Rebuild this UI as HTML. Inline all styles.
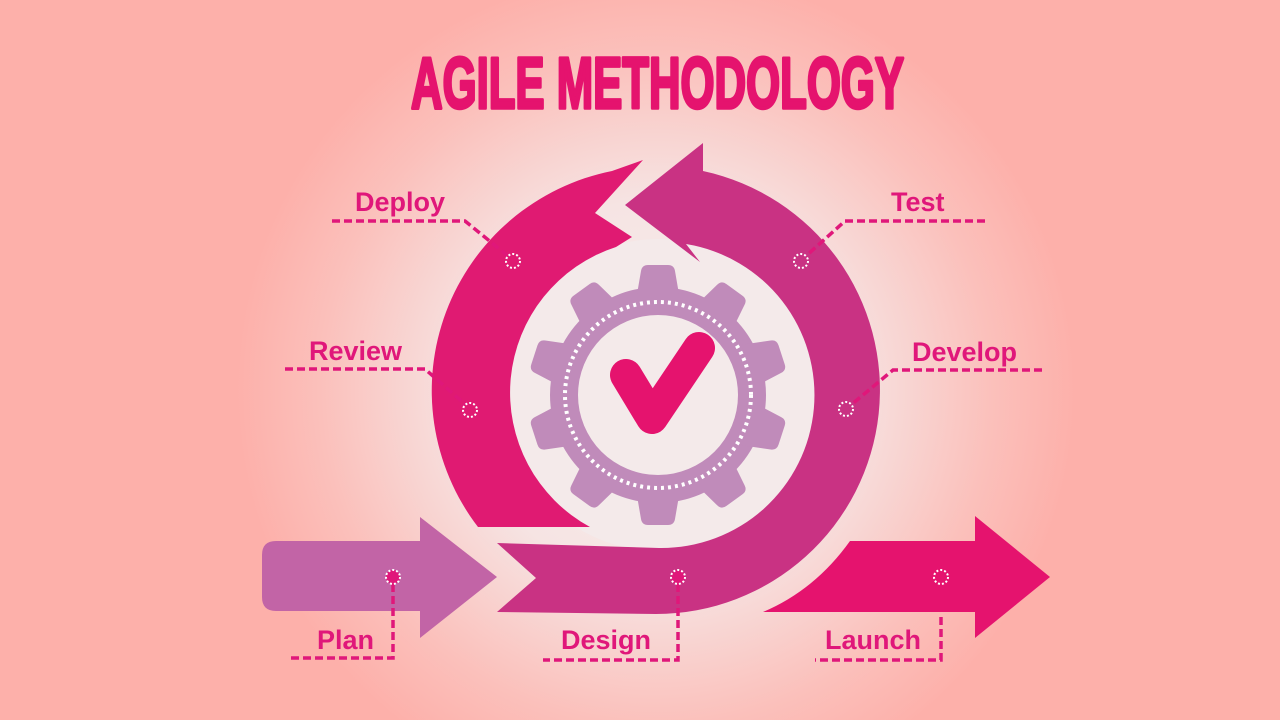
<!DOCTYPE html>
<html><head><meta charset="utf-8"><style>
html,body{margin:0;padding:0;width:1280px;height:720px;overflow:hidden}
svg{display:block}
</style></head><body>
<svg width="1280" height="720" viewBox="0 0 1280 720" xmlns="http://www.w3.org/2000/svg">
<defs>
<radialGradient id="bg" cx="656" cy="390" r="420" gradientUnits="userSpaceOnUse">
<stop offset="0" stop-color="#f6eeee"/>
<stop offset="0.45" stop-color="#f6e4e3"/>
<stop offset="0.8" stop-color="#fbc0bb"/>
<stop offset="1" stop-color="#fdb0aa"/>
</radialGradient>
</defs>
<rect width="1280" height="720" fill="url(#bg)"/>
<text x="411" y="108" font-family="'Liberation Sans',sans-serif" font-weight="bold" font-size="72" fill="#e5136e" stroke="#e5136e" stroke-width="3.5" stroke-linejoin="round" textLength="493" lengthAdjust="spacingAndGlyphs">AGILE METHODOLOGY</text>

<circle cx="659" cy="395" r="156" fill="#f4eaea"/>

<path d="M478,527 A224,224 0 0 1 612,171 L643,160 L595,213 L632,237 L616,247 A153,153 0 0 0 590,527 Z" fill="#e01a72"/>
<path d="M686,244 A153,153 0 0 1 659,548 L497,543 L536,578 L497,612 L656,614 A224,224 0 0 0 703,171 L703,143 L625,205 L700,262 Z" fill="#c93283"/>

<path d="M276,541 L420,541 L420,517 L497,577 L420,638 L420,611 L276,611 Q262,611 262,597 L262,555 Q262,541 276,541 Z" fill="#c264a6"/>
<path d="M850,541 L975,541 L975,516 L1050,577 L975,638 L975,612 L763,612 Q815,590 850,541 Z" fill="#e5136e"/>

<g fill="#c08bba" transform="translate(658,395)">
<circle r="108"/>
<g id="t"><path d="M-22,-95 L-17,-124 Q-16,-130 -10,-130 L10,-130 Q16,-130 17,-124 L22,-95 Z"/></g>
<use href="#t" transform="rotate(36)"/><use href="#t" transform="rotate(72)"/><use href="#t" transform="rotate(108)"/><use href="#t" transform="rotate(144)"/><use href="#t" transform="rotate(180)"/><use href="#t" transform="rotate(216)"/><use href="#t" transform="rotate(252)"/><use href="#t" transform="rotate(288)"/><use href="#t" transform="rotate(324)"/>
<circle r="93" fill="none" stroke="#fff" stroke-width="4" stroke-dasharray="3 4"/>
<circle r="80" fill="#f4eaea"/>
</g>
<path d="M626,375 L652,418 L699,348" fill="none" stroke="#e5136e" stroke-width="32" stroke-linecap="round" stroke-linejoin="round"/>

<g fill="none" stroke="#e0177a" stroke-width="3.5" stroke-dasharray="8 4">
<path d="M332,221 L465,221 L508,256"/>
<path d="M985,221 L845,221 L806,256"/>
<path d="M285,369 L425,369 L466,405"/>
<path d="M1042,370 L893,370 L851,405"/>
<path d="M393,584 L393,658 L290,658"/>
<path d="M678,584 L678,660 L543,660"/>
<path d="M941,617 L941,660 L815,660"/>
</g>
<g fill="none" stroke="#fff" stroke-width="2" stroke-dasharray="2 2">
<circle cx="513" cy="261" r="7"/>
<circle cx="801" cy="261" r="7"/>
<circle cx="470" cy="410" r="7"/>
<circle cx="846" cy="409" r="7"/>
<circle cx="393" cy="577" r="7" fill="#e0177a"/>
<circle cx="678" cy="577" r="7" fill="#e0177a"/>
<circle cx="941" cy="577" r="7"/>
</g>

<g font-family="'Liberation Sans',sans-serif" font-weight="bold" font-size="27" fill="#e0177a">
<text x="355" y="211">Deploy</text>
<text x="891" y="211">Test</text>
<text x="309" y="360">Review</text>
<text x="912" y="361">Develop</text>
<text x="317" y="649">Plan</text>
<text x="561" y="649">Design</text>
<text x="825" y="649">Launch</text>
</g>
</svg>
</body></html>
